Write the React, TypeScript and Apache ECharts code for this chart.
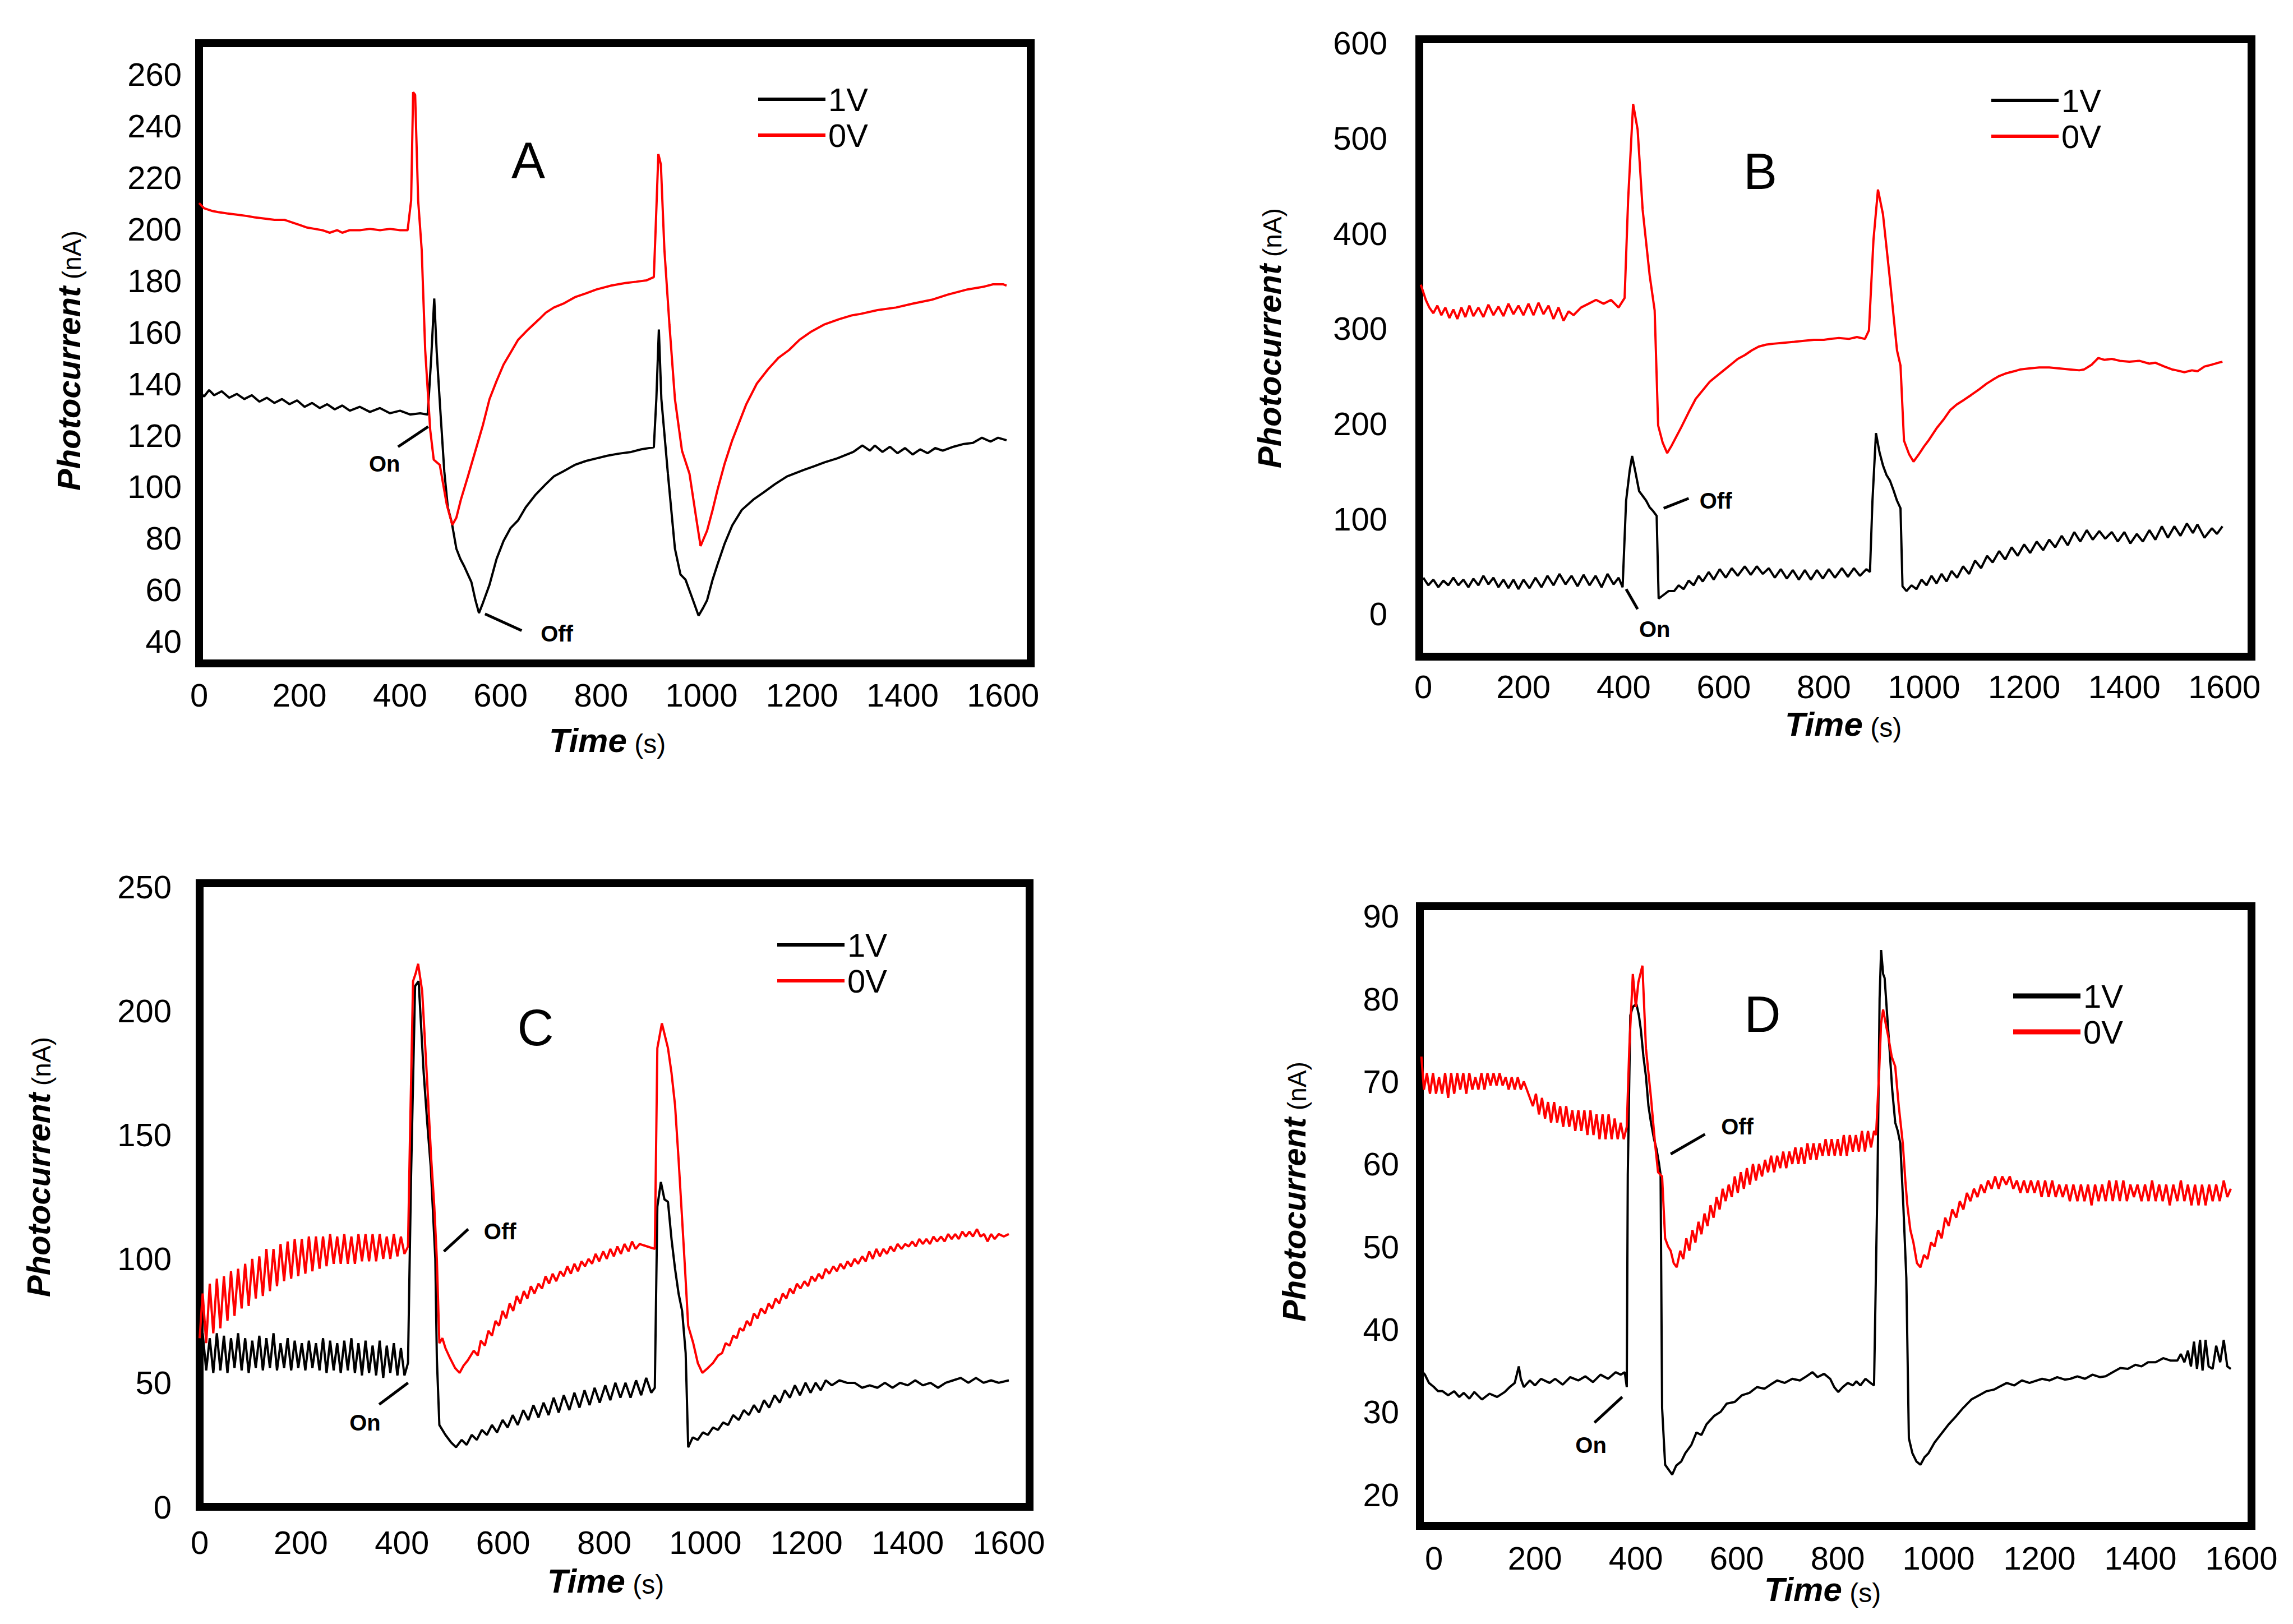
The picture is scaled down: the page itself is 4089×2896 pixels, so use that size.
import { useEffect, useRef } from 'react';
import * as echarts from 'echarts';

type Pt = [number, number];

// ---- Panel A ----
const a1V: Pt[] = [
  [0, 137], [10, 135], [20, 137.5], [30, 135.5], [45, 137], [60, 134.5], [75, 136], [90, 134], [105, 135.5], [120, 133],
  [135, 134.5], [150, 132.5], [165, 134], [180, 132], [195, 133.5], [210, 131], [225, 132.5], [240, 130.5], [255, 132], [270, 130],
  [285, 131.5], [300, 129.5], [320, 131], [340, 129], [360, 130.5], [380, 128.5], [400, 129.5], [420, 128], [440, 128.5], [455, 128],
  [462, 150], [468, 173], [473, 152], [480, 130], [488, 106], [495, 92], [503, 86], [512, 76], [520, 72], [528, 69],
  [535, 66], [542, 63], [550, 56], [557, 51], [565, 55], [578, 62], [592, 72], [606, 79], [620, 84], [635, 87],
  [650, 92], [670, 97], [690, 101], [706, 104], [725, 106], [748, 108.5], [770, 110], [791, 111], [812, 112], [834, 112.8],
  [860, 113.5], [880, 114.5], [905, 115.3], [910, 134], [915, 161], [920, 134], [933, 105], [947, 76], [958, 66], [968, 64],
  [983, 56], [994, 50], [1003, 53], [1011, 56], [1022, 64], [1032, 70], [1046, 78], [1061, 85], [1080, 91], [1103, 95],
  [1125, 98], [1146, 101], [1170, 104], [1203, 106.5], [1225, 108], [1245, 109.5], [1270, 111], [1302, 113.5], [1320, 116], [1335, 114],
  [1345, 116], [1360, 113.5], [1375, 115.5], [1390, 113], [1405, 115], [1420, 112.5], [1435, 114.5], [1450, 113], [1465, 115], [1480, 114],
  [1501, 115.5], [1520, 116.5], [1540, 117], [1558, 119], [1575, 117.5], [1590, 119], [1607, 118],
];
const a0V: Pt[] = [
  [0, 210], [10, 208], [25, 207], [38, 206.5], [55, 206], [75, 205.5], [95, 205], [110, 204.5], [130, 204], [150, 203.5],
  [170, 203.5], [185, 202.5], [200, 201.5], [215, 200.5], [230, 200], [245, 199.5], [260, 198.5], [275, 199.5], [285, 198.5], [300, 199.5],
  [320, 199.5], [340, 200], [360, 199.5], [380, 200], [400, 199.5], [415, 199.5], [422, 211], [426, 253], [430, 252], [436, 211],
  [443, 192], [450, 153], [460, 122], [467, 110.5], [479, 108.5], [493, 93], [504, 85.2], [512, 88], [521, 95], [535, 104],
  [550, 114], [565, 124], [578, 134], [592, 141], [606, 147.4], [620, 152], [635, 157], [655, 161], [677, 165], [690, 167.5],
  [706, 169.5], [725, 171], [748, 173.5], [770, 175], [791, 176.5], [820, 178], [848, 179], [870, 179.5], [890, 180], [905, 181.3],
  [909, 202], [914, 229], [919, 225], [926, 192], [936, 163], [947, 134], [961, 114], [976, 105], [990, 87], [998, 77],
  [1011, 83], [1022, 91], [1032, 99], [1046, 109], [1061, 118], [1075, 125], [1089, 132], [1110, 140], [1132, 145.5], [1153, 150],
  [1174, 153], [1195, 157], [1217, 160], [1245, 163], [1274, 165], [1300, 166.5], [1316, 167], [1350, 168.5], [1387, 169.5], [1420, 171],
  [1458, 172.5], [1490, 174.5], [1529, 176.5], [1560, 177.5], [1580, 178.5], [1600, 178.5], [1607, 178],
];

// ---- Panel B ----
const b1V: Pt[] = [
  [0, 38], [10, 30], [20, 36], [30, 28], [40, 35], [50, 30], [60, 38], [70, 30], [80, 36], [90, 28],
  [100, 37], [110, 30], [120, 40], [130, 31], [140, 38], [150, 28], [160, 36], [170, 27], [180, 36], [190, 26],
  [200, 36], [212, 27], [224, 38], [236, 28], [248, 40], [260, 30], [272, 42], [284, 31], [296, 40], [308, 29],
  [320, 41], [332, 30], [344, 40], [356, 28], [368, 42], [380, 31], [390, 38], [398, 28], [405, 119], [412, 150],
  [417, 166], [424, 148], [431, 129], [438, 124], [445, 119], [452, 112], [459, 108], [466, 103], [470, 16], [480, 20],
  [490, 24], [501, 24], [510, 30], [520, 26], [530, 35], [540, 30], [550, 40], [558, 34], [570, 44], [580, 36],
  [592, 47], [604, 38], [616, 48], [628, 40], [642, 50], [654, 41], [666, 50], [678, 42], [690, 48], [702, 38],
  [714, 47], [726, 37], [738, 46], [750, 36], [762, 46], [774, 36], [786, 46], [798, 37], [810, 47], [822, 38],
  [836, 48], [848, 39], [860, 48], [872, 40], [885, 47], [892, 44], [897, 119], [904, 190], [911, 170], [918, 156],
  [925, 146], [932, 140], [939, 130], [946, 119], [953, 111], [957, 29], [965, 24], [975, 30], [985, 26], [995, 36],
  [1005, 30], [1015, 40], [1025, 32], [1035, 42], [1045, 34], [1055, 45], [1066, 38], [1078, 50], [1090, 42], [1102, 56],
  [1114, 48], [1126, 61], [1137, 54], [1150, 66], [1162, 57], [1175, 70], [1187, 61], [1200, 73], [1212, 64], [1225, 76],
  [1238, 67], [1250, 78], [1262, 70], [1275, 82], [1287, 72], [1300, 86], [1312, 76], [1325, 88], [1337, 78], [1350, 87],
  [1362, 79], [1375, 86], [1387, 76], [1400, 86], [1412, 74], [1425, 84], [1437, 76], [1450, 88], [1462, 78], [1475, 92],
  [1487, 80], [1500, 92], [1512, 82], [1525, 95], [1537, 85], [1546, 94], [1560, 80], [1575, 90], [1585, 84], [1596, 92],
];
const b0V: Pt[] = [
  [-5, 346], [5, 330], [12, 322], [20, 316], [28, 324], [36, 314], [44, 322], [52, 311], [60, 320], [68, 310],
  [76, 322], [84, 312], [92, 324], [100, 313], [110, 322], [120, 312], [130, 325], [140, 314], [150, 323], [160, 313],
  [170, 326], [180, 315], [190, 324], [200, 314], [210, 326], [220, 314], [230, 327], [240, 315], [250, 324], [260, 310],
  [270, 322], [280, 308], [290, 318], [300, 314], [315, 322], [330, 326], [345, 330], [360, 326], [375, 330], [390, 322],
  [402, 332], [409, 435], [419, 536], [428, 509], [438, 425], [452, 356], [462, 319], [469, 198], [478, 180], [487, 169],
  [495, 176], [501, 182], [515, 196], [530, 212], [544, 226], [558, 235], [572, 244], [586, 250], [600, 256], [614, 262],
  [628, 268], [642, 272], [656, 277], [670, 281], [685, 283], [700, 284], [720, 285], [741, 286], [760, 287], [780, 288],
  [800, 288], [812, 289], [830, 290], [850, 289], [866, 291], [882, 289], [890, 298], [899, 393], [908, 446], [918, 420],
  [932, 351], [946, 277], [953, 261], [960, 182], [970, 168], [979, 160], [990, 168], [1000, 176], [1010, 183], [1025, 195],
  [1040, 205], [1052, 214], [1065, 220], [1080, 225], [1094, 230], [1110, 236], [1125, 242], [1137, 246], [1150, 250], [1165, 253],
  [1180, 255], [1193, 257], [1210, 258], [1230, 259], [1250, 259], [1270, 258], [1290, 257], [1310, 256], [1320, 257], [1335, 262],
  [1348, 269], [1360, 267], [1375, 268], [1391, 266], [1410, 265], [1430, 266], [1450, 263], [1462, 264], [1480, 260], [1495, 257],
  [1504, 256], [1520, 254], [1535, 256], [1546, 255], [1560, 260], [1575, 262], [1588, 264], [1596, 265],
];

// ---- Panel C ----
const c1V: Pt[] = [
  [0, 60], [6, 70], [13, 55], [20, 68], [27, 54], [34, 70], [41, 55], [48, 69], [55, 54], [62, 68],
  [69, 56], [76, 70], [83, 55], [90, 68], [97, 54], [104, 67], [111, 56], [118, 69], [125, 55], [132, 68],
  [139, 56], [146, 70], [153, 55], [160, 66], [167, 56], [174, 68], [181, 55], [188, 67], [195, 56], [202, 66],
  [209, 55], [216, 67], [223, 56], [230, 66], [237, 55], [244, 68], [251, 54], [258, 67], [265, 55], [272, 66],
  [279, 54], [286, 67], [293, 55], [300, 68], [307, 54], [314, 66], [321, 53], [328, 67], [335, 54], [342, 65],
  [349, 53], [356, 67], [363, 52], [370, 65], [377, 54], [384, 66], [391, 53], [398, 64], [405, 53], [412, 58],
  [418, 133], [426, 210], [433, 212], [443, 175], [450, 155], [457, 137], [466, 100], [469, 60], [474, 33], [486, 29],
  [497, 26], [507, 24], [518, 27], [528, 25], [538, 29], [548, 27], [558, 31], [568, 29], [578, 33], [588, 30],
  [599, 35], [609, 32], [619, 37], [629, 33], [640, 39], [650, 35], [660, 41], [670, 36], [680, 42], [690, 37],
  [700, 44], [710, 38], [720, 45], [731, 39], [741, 46], [751, 40], [761, 47], [771, 41], [781, 48], [791, 42],
  [802, 49], [812, 43], [822, 50], [832, 44], [842, 50], [852, 44], [863, 51], [873, 45], [883, 52], [893, 46],
  [900, 48], [905, 121], [912, 131], [919, 124], [926, 123], [933, 108], [940, 96], [947, 86], [954, 79], [961, 62],
  [966, 24], [975, 28], [985, 27], [995, 30], [1005, 29], [1015, 32], [1025, 31], [1035, 34], [1045, 33], [1055, 37],
  [1066, 35], [1076, 39], [1086, 37], [1096, 41], [1106, 38], [1116, 43], [1126, 40], [1137, 45], [1147, 42], [1157, 47],
  [1167, 44], [1177, 49], [1187, 45], [1198, 50], [1208, 46], [1218, 50], [1228, 47], [1238, 51], [1250, 49], [1265, 51],
  [1280, 50], [1295, 50], [1310, 48], [1325, 49], [1340, 48], [1355, 50], [1370, 48], [1385, 50], [1400, 49], [1415, 51],
  [1430, 49], [1445, 50], [1460, 48], [1475, 50], [1490, 51], [1505, 52], [1520, 50], [1535, 52], [1550, 50], [1565, 51],
  [1580, 50], [1600, 51],
];
const c0V: Pt[] = [
  [0, 68], [6, 86], [13, 66], [20, 90], [27, 70], [34, 92], [41, 72], [48, 93], [55, 75], [62, 95],
  [69, 77], [76, 96], [83, 80], [90, 98], [97, 81], [104, 100], [111, 84], [118, 101], [125, 85], [132, 104],
  [139, 87], [146, 104], [153, 89], [160, 106], [167, 91], [174, 107], [181, 92], [188, 108], [195, 93], [202, 108],
  [209, 94], [216, 109], [223, 95], [230, 109], [237, 96], [244, 109], [251, 97], [258, 110], [265, 98], [272, 109],
  [279, 98], [286, 110], [293, 98], [300, 109], [307, 98], [314, 110], [321, 99], [328, 110], [335, 99], [342, 110],
  [349, 99], [356, 110], [363, 100], [370, 109], [377, 100], [384, 110], [391, 101], [398, 109], [405, 102], [412, 105],
  [416, 150], [422, 212], [427, 215], [432, 219], [440, 208], [450, 171], [458, 140], [464, 121], [469, 100], [474, 66],
  [480, 68], [486, 64], [495, 60], [505, 56], [514, 54], [522, 57], [530, 59], [542, 63], [550, 61], [556, 67],
  [564, 65], [571, 71], [578, 69], [585, 75], [592, 73], [599, 79], [606, 76], [613, 82], [620, 79], [627, 85],
  [634, 82], [641, 87], [648, 84], [655, 89], [662, 86], [670, 90], [677, 88], [684, 93], [691, 90], [698, 94],
  [705, 91], [713, 95], [720, 93], [727, 97], [734, 94], [741, 98], [748, 95], [755, 99], [762, 97], [769, 100],
  [776, 98], [783, 102], [790, 99], [798, 103], [805, 100], [812, 104], [819, 101], [826, 105], [833, 102], [840, 106],
  [848, 103], [855, 107], [862, 104], [870, 106], [885, 105], [900, 104], [905, 185], [914, 195], [920, 190], [926, 185],
  [933, 175], [940, 162], [947, 140], [954, 116], [960, 95], [966, 73], [976, 66], [985, 58], [994, 54], [1005, 56],
  [1015, 58], [1025, 61], [1033, 62], [1040, 66], [1048, 65], [1055, 69], [1062, 68], [1068, 72], [1075, 71], [1082, 75],
  [1089, 73], [1096, 78], [1103, 76], [1110, 80], [1118, 78], [1125, 82], [1132, 80], [1139, 84], [1146, 82], [1153, 86],
  [1160, 84], [1167, 88], [1174, 86], [1181, 90], [1188, 88], [1196, 91], [1203, 89], [1210, 93], [1217, 91], [1224, 94],
  [1231, 92], [1238, 96], [1245, 94], [1253, 97], [1260, 95], [1267, 98], [1274, 96], [1281, 99], [1288, 97], [1295, 100],
  [1302, 98], [1310, 101], [1317, 99], [1324, 103], [1331, 100], [1338, 104], [1345, 101], [1352, 104], [1359, 102], [1366, 105],
  [1373, 103], [1380, 106], [1388, 104], [1395, 106], [1402, 105], [1409, 107], [1416, 105], [1423, 108], [1430, 106], [1437, 108],
  [1444, 106], [1451, 109], [1458, 107], [1466, 109], [1473, 107], [1480, 110], [1487, 108], [1494, 110], [1501, 108], [1508, 111],
  [1515, 109], [1522, 111], [1529, 109], [1537, 112], [1544, 109], [1551, 110], [1558, 107], [1565, 110], [1572, 108], [1580, 110],
  [1590, 109], [1600, 110],
];

// ---- Panel D ----
const d1V: Pt[] = [
  [-25, 35], [-18, 34.5], [-10, 33.5], [0, 33], [8, 32.5], [17, 32.5], [28, 32], [40, 32.5], [50, 31.8], [59, 32.3],
  [70, 31.6], [80, 32.4], [95, 31.5], [110, 32.2], [125, 31.8], [140, 32.4], [150, 33], [160, 33.5], [168, 35.5], [172, 34],
  [178, 33], [190, 33.8], [200, 33.2], [212, 34], [229, 33.5], [240, 34], [255, 33.3], [270, 34.2], [286, 33.8], [300, 34.3],
  [315, 33.6], [330, 34.5], [345, 34], [360, 34.8], [370, 34.5], [378, 34.8], [382, 33], [384, 58.7], [389, 78], [394, 79],
  [401, 79.4], [406, 78], [410, 76.2], [415, 73], [420, 70.6], [425, 67], [430, 65], [436, 63], [441, 61.8], [446, 60],
  [449, 58.7], [452, 30.5], [458, 23.6], [465, 23], [472, 22.4], [480, 23.5], [490, 24], [498, 25], [510, 26], [520, 27.5],
  [530, 27.2], [540, 28.5], [555, 29.5], [568, 30], [580, 31], [596, 31.2], [610, 32], [625, 32.3], [640, 33], [655, 32.8],
  [667, 33.3], [680, 33.8], [695, 33.5], [710, 34], [725, 33.8], [738, 34.3], [750, 34.8], [760, 34.2], [773, 34.6], [785, 34],
  [793, 33], [801, 32.4], [810, 33], [820, 33.5], [830, 33.2], [837, 33.7], [845, 33.2], [855, 34], [865, 33.5], [872, 33.2],
  [879, 58.7], [883, 80], [886, 85.9], [890, 83], [893, 82.5], [898, 78], [903, 73.7], [908, 69], [914, 65], [919, 64],
  [924, 62.5], [930, 55], [936, 46.2], [941, 26.8], [948, 25], [956, 24], [964, 23.6], [972, 24.5], [980, 25], [992, 26.3],
  [1006, 27.4], [1020, 28.5], [1035, 29.5], [1049, 30.5], [1065, 31.5], [1080, 32], [1095, 32.5], [1110, 32.7], [1119, 33], [1135, 33.5],
  [1150, 33.2], [1165, 33.8], [1180, 33.5], [1190, 33.7], [1205, 34], [1220, 33.8], [1235, 34.2], [1250, 33.9], [1261, 34], [1275, 34.3],
  [1290, 34], [1305, 34.5], [1320, 34.2], [1331, 34.3], [1345, 34.8], [1360, 35.3], [1375, 35.2], [1390, 35.7], [1402, 35.5], [1415, 36],
  [1430, 36], [1445, 36.5], [1460, 36.2], [1473, 36.2], [1480, 37], [1487, 36], [1494, 37.4], [1500, 35.5], [1506, 38.5], [1512, 35.2],
  [1518, 38.7], [1523, 35], [1529, 38.7], [1535, 35.5], [1543, 35.2], [1550, 38], [1558, 36], [1565, 38.7], [1572, 35.5], [1579, 35.2],
];
const d0V: Pt[] = [
  [-25, 73], [-20, 69], [-14, 71], [-8, 68.5], [-2, 71], [4, 68.5], [10, 70.5], [16, 68.5], [22, 71], [28, 68],
  [34, 71], [40, 68.5], [46, 71], [52, 69], [58, 71], [64, 68.5], [70, 71], [76, 69], [82, 70.5], [88, 69],
  [94, 71], [100, 69], [106, 71], [112, 69.5], [118, 71], [124, 69.5], [130, 71], [136, 69.5], [142, 70.5], [148, 69],
  [154, 70.5], [160, 69], [166, 70.5], [172, 69], [178, 70], [184, 69], [190, 68], [196, 67], [202, 68.5], [208, 66],
  [214, 68], [220, 65.5], [226, 67.5], [232, 65], [238, 67.5], [244, 65], [250, 67], [256, 64.5], [262, 67], [268, 64.5],
  [274, 66.5], [280, 64], [286, 66.5], [292, 64], [298, 66.5], [304, 63.5], [310, 66.5], [316, 63.5], [322, 66], [328, 63],
  [334, 66], [340, 63], [346, 66], [352, 63], [358, 65.5], [364, 63], [370, 65], [376, 63], [382, 64.5], [387, 74],
  [394, 83], [400, 79], [405, 82], [413, 84], [420, 74], [430, 68], [438, 62.5], [444, 59], [452, 58.5], [458, 51],
  [464, 50], [469, 49.5], [475, 48], [481, 47.5], [488, 49.5], [494, 48.5], [500, 51], [506, 49.5], [512, 52], [518, 50.5],
  [524, 53], [530, 51.5], [536, 54], [542, 52.5], [548, 55], [554, 53.5], [560, 56], [566, 54.5], [572, 57], [578, 55.5],
  [584, 57.5], [590, 56], [596, 58.5], [602, 56.5], [608, 59], [614, 57], [620, 59.5], [626, 57.5], [632, 60], [638, 58],
  [644, 60], [650, 58.5], [656, 60.5], [662, 59], [668, 61], [674, 59], [680, 61], [686, 59.5], [692, 61.5], [698, 59.5],
  [704, 61.5], [710, 60], [716, 62], [722, 60], [728, 62], [734, 60], [740, 62.5], [746, 60.5], [752, 62.5], [758, 60.5],
  [764, 62.5], [770, 61], [776, 63], [782, 61], [788, 63], [794, 61], [800, 63], [806, 61], [812, 63.5], [818, 61],
  [824, 63.5], [830, 61.5], [836, 63.5], [842, 61.5], [848, 64], [854, 61.5], [860, 64], [866, 62], [872, 64], [876, 63.5],
  [882, 71], [886, 77], [890, 78.7], [895, 77], [900, 75.5], [907, 73], [914, 71.8], [921, 67], [929, 62.5], [934, 58],
  [938, 55], [944, 52], [950, 50.5], [957, 48], [964, 47.5], [971, 49], [978, 48.5], [985, 50.5], [992, 50], [999, 52],
  [1006, 51], [1013, 53.5], [1020, 52.5], [1027, 54.5], [1035, 53.5], [1042, 55.5], [1049, 54.5], [1056, 56.5], [1063, 55.5], [1070, 57],
  [1077, 56], [1084, 57.5], [1091, 56.5], [1098, 58], [1105, 57], [1112, 58.5], [1119, 57], [1126, 58.5], [1134, 57.5], [1141, 58.5],
  [1148, 57], [1155, 58], [1162, 56.5], [1169, 58], [1176, 56.5], [1183, 58], [1190, 56.5], [1197, 58], [1204, 56], [1211, 58],
  [1218, 56], [1225, 58], [1232, 56], [1239, 57.5], [1246, 56], [1253, 57.5], [1260, 55.5], [1267, 57.5], [1275, 55.5], [1282, 57.5],
  [1289, 55.5], [1296, 57.5], [1303, 55], [1310, 57.5], [1317, 55.5], [1324, 57.5], [1331, 55.5], [1338, 58], [1345, 55.5], [1352, 58],
  [1359, 55.5], [1366, 58], [1373, 55.5], [1380, 57.5], [1387, 56], [1394, 57.5], [1402, 55.5], [1409, 57.5], [1416, 55.5], [1423, 58],
  [1430, 55.5], [1437, 57.5], [1444, 55.5], [1451, 57.5], [1458, 55], [1465, 57.5], [1473, 55.5], [1480, 58], [1487, 55.5], [1494, 57.5],
  [1501, 55], [1508, 57.5], [1515, 55], [1522, 57.5], [1529, 55], [1536, 57.5], [1543, 55.5], [1550, 57.5], [1557, 55.5], [1565, 58],
  [1572, 56], [1579, 57],
];

// tick labels
const timeTicks = [0, 200, 400, 600, 800, 1000, 1200, 1400, 1600];
const ticksA = [40, 60, 80, 100, 120, 140, 160, 180, 200, 220, 240, 260];
const ticksB = [0, 100, 200, 300, 400, 500, 600];
const ticksC = [0, 50, 100, 150, 200, 250];
const ticksD = [20, 30, 40, 50, 60, 70, 80, 90];

// On / Off call-outs, in data coordinates
interface Note { text: string; from: Pt; to: Pt; at: Pt }
const notesA: Note[] = [
  { text: 'On', from: [396, 115.5], to: [456, 123.3], at: [369, 109] },
  { text: 'Off', from: [569, 50.7], to: [642, 44.2], at: [712, 43] },
];
const notesB: Note[] = [
  { text: 'Off', from: [480, 111], to: [530, 121.4], at: [584, 119] },
  { text: 'On', from: [405, 26], to: [428, 5], at: [462, -16] },
];
const notesC: Note[] = [
  { text: 'Off', from: [483, 103], to: [531, 112], at: [594, 111] },
  { text: 'On', from: [355, 41.3], to: [412, 50], at: [327, 34] },
];
const notesD: Note[] = [
  { text: 'Off', from: [469, 61.2], to: [537, 63.6], at: [601, 64.5] },
  { text: 'On', from: [318, 28.7], to: [373, 31.8], at: [311, 26] },
];

const FONT = "'Liberation Sans', Arial, sans-serif";

const panels = [
  {
    letter: 'A', grid: { left: 355, top: 77, width: 1483, height: 1106 },
    x: [0, 1655], y: [31.5, 272], yTicks: ticksA, yMargin: 31, xMargin: 27,
    black: a1V, red: a0V, notes: notesA,
    legend: [1352, 146], legendH: 6, letterAt: [942, 286], yTitle: [122, 643], xTitle: [1083, 1320],
  },
  {
    letter: 'B', grid: { left: 2531, top: 70, width: 1484, height: 1101 },
    x: [-8, 1654], y: [-45, 604], yTicks: ticksB, yMargin: 57, xMargin: 24,
    black: b1V, red: b0V, notes: notesB,
    legend: [3551, 148], legendH: 6, letterAt: [3139, 306], yTitle: [2263, 603], xTitle: [3287, 1291],
  },
  {
    letter: 'C', grid: { left: 356, top: 1575, width: 1480, height: 1112 },
    x: [0, 1641], y: [0, 251.5], yTicks: ticksC, yMargin: 50, xMargin: 34,
    black: c1V, red: c0V, notes: notesC,
    legend: [1386, 1654], legendH: 6, letterAt: [955, 1833], yTitle: [68, 2081], xTitle: [1080, 2819],
  },
  {
    letter: 'D', grid: { left: 2532, top: 1616, width: 1483, height: 1105 },
    x: [-28, 1620], y: [16.2, 91.2], yTicks: ticksD, yMargin: 37, xMargin: 28,
    black: d1V, red: d0V, notes: notesD,
    legend: [3590, 1745], legendH: 9, letterAt: [3143, 1809], yTitle: [2307, 2125], xTitle: [3250, 2834],
  },
];

const labelStyle = { color: '#000', fontFamily: FONT, fontSize: 58 };
const plain = (v: number) => String(v);

export default function App() {
  const chartRef = useRef<HTMLDivElement>(null);

  useEffect(() => {
    if (!chartRef.current) return;
    const chart = echarts.init(chartRef.current, null, { renderer: 'svg' });

    const series: any[] = [];
    panels.forEach((p, i) => {
      series.push({
        name: '1V',
        type: 'line',
        xAxisIndex: i,
        yAxisIndex: i,
        data: p.black,
        showSymbol: false,
        lineStyle: { color: '#000', width: 4 },
        itemStyle: { color: '#000' },
        markLine: {
          silent: true,
          symbol: ['none', 'none'],
          label: { show: false },
          lineStyle: { color: '#000', width: 5, type: 'solid' },
          data: p.notes.map((n) => [{ coord: n.from }, { coord: n.to }]),
        },
        markPoint: {
          silent: true,
          symbol: 'circle',
          symbolSize: 1,
          itemStyle: { color: 'rgba(0,0,0,0)' },
          label: {
            show: true,
            position: 'inside',
            formatter: '{b}',
            color: '#000',
            fontFamily: FONT,
            fontWeight: 'bold',
            fontSize: 40,
          },
          data: p.notes.map((n) => ({ name: n.text, coord: n.at })),
        },
      });
      series.push({
        name: '0V',
        type: 'line',
        xAxisIndex: i,
        yAxisIndex: i,
        data: p.red,
        showSymbol: false,
        lineStyle: { color: '#ff0000', width: 4 },
        itemStyle: { color: '#ff0000' },
      });
    });

    const graphic: any[] = [];
    panels.forEach((p) => {
      graphic.push({
        type: 'text',
        x: p.letterAt[0],
        y: p.letterAt[1],
        style: { text: p.letter, fontFamily: FONT, fontSize: 90, fill: '#000', align: 'center', verticalAlign: 'middle' },
      });
      graphic.push({
        type: 'text',
        x: p.yTitle[0],
        y: p.yTitle[1],
        rotation: Math.PI / 2,
        style: {
          text: '{b|Photocurrent}{n|\u00a0(nA)}',
          align: 'center',
          verticalAlign: 'middle',
          fill: '#000',
          rich: {
            b: { fontFamily: FONT, fontSize: 58, fontStyle: 'italic', fontWeight: 'bold', fill: '#000', verticalAlign: 'bottom' },
            n: { fontFamily: FONT, fontSize: 46, fill: '#000', verticalAlign: 'bottom' },
          },
        },
      });
      graphic.push({
        type: 'text',
        x: p.xTitle[0],
        y: p.xTitle[1],
        style: {
          text: '{b|Time}{n|\u00a0(s)}',
          align: 'center',
          verticalAlign: 'middle',
          fill: '#000',
          rich: {
            b: { fontFamily: FONT, fontSize: 60, fontStyle: 'italic', fontWeight: 'bold', fill: '#000', verticalAlign: 'bottom' },
            n: { fontFamily: FONT, fontSize: 48, fill: '#000', verticalAlign: 'bottom' },
          },
        },
      });
    });

    const option: echarts.EChartsOption = {
      animation: false,
      backgroundColor: '#fff',
      grid: panels.map((p) => ({
        ...p.grid,
        show: true,
        borderColor: '#000',
        borderWidth: 14,
        backgroundColor: 'transparent',
        containLabel: false,
      })),
      xAxis: panels.map((p, i) => ({
        type: 'value',
        gridIndex: i,
        min: p.x[0],
        max: p.x[1],
        axisLine: { show: false },
        axisTick: { show: false },
        splitLine: { show: false },
        axisLabel: { ...labelStyle, margin: p.xMargin, customValues: timeTicks, formatter: plain },
      })) as any,
      yAxis: panels.map((p, i) => ({
        type: 'value',
        gridIndex: i,
        min: p.y[0],
        max: p.y[1],
        axisLine: { show: false },
        axisTick: { show: false },
        splitLine: { show: false },
        axisLabel: { ...labelStyle, margin: p.yMargin, customValues: p.yTicks, formatter: plain },
      })) as any,
      legend: panels.map((p) => ({
        left: p.legend[0],
        top: p.legend[1],
        orient: 'vertical',
        icon: 'rect',
        itemWidth: 120,
        itemHeight: p.legendH,
        itemGap: 2,
        padding: 0,
        selectedMode: false,
        data: ['1V', '0V'],
        textStyle: { color: '#000', fontFamily: FONT, fontSize: 58, lineHeight: 62 },
      })) as any,
      series,
      graphic,
    };

    chart.setOption(option);

    return () => {
      chart.dispose();
    };
  }, []);

  return (
    <div
      ref={chartRef}
      style={{ position: 'absolute', left: 0, top: 0, width: 4089, height: 2896, background: '#fff' }}
    />
  );
}
